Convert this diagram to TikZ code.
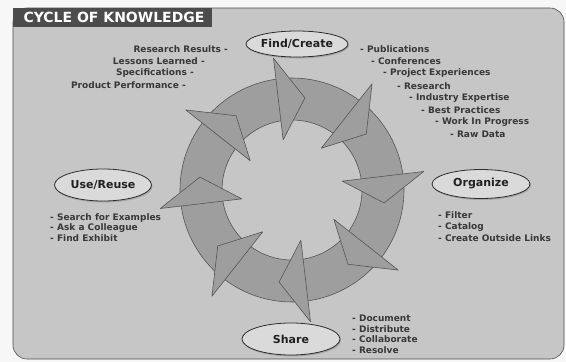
\documentclass[tikz,border=0pt]{standalone}
\usepackage{fontspec}
\setmainfont{DejaVu Sans}
\usetikzlibrary{shapes.geometric,shadows}

\definecolor{panelgray}{HTML}{C6C6C6}
\definecolor{titlegray}{HTML}{4C4C4C}
\definecolor{ringgray}{HTML}{9E9E9E}
\definecolor{ringedge}{HTML}{555555}
\definecolor{pillgray}{HTML}{DADADA}
\definecolor{inkgray}{HTML}{383838}

\begin{document}
\begin{tikzpicture}[
  x=1pt,
  y=-1pt,
  line join=round,
  panel/.style={fill=panelgray,draw=gray!60!black,line width=0.6pt,rounded corners=14pt},
  titlebar/.style={fill=titlegray},
  stagepill/.style={ellipse,fill=pillgray,draw=gray!35!black,line width=0.8pt,inner sep=0pt,
    font=\bfseries\fontsize{11}{13}\selectfont,text=gray!25!black,
    drop shadow={shadow xshift=1pt,shadow yshift=-1.5pt,opacity=0.45}},
  listitem/.style={font=\bfseries\fontsize{9}{11.5}\selectfont,text=inkgray,inner sep=0pt},
  ringpart/.style={fill=ringgray},
  ringline/.style={draw=ringedge,line width=0.6pt}
]
  % Fix the frame of the page.
  \useasboundingbox (0,0) rectangle (566,362);
  \fill[gray!6] (0,0) rectangle (566,362);

  % Panel and title bar.
  \draw[panel] (13,8) rectangle (564,359);
  \fill[titlebar] (13,8) rectangle (212,27);
  \node[text=white,font=\bfseries\fontsize{14}{16}\selectfont,anchor=west] (title)
    at (20,17.5) {CYCLE OF KNOWLEDGE};

  % Centre of the ring of arrows.
  \coordinate (hub) at (292,190);

  % Ring of eight curved arrows, tips running clockwise.
  \begin{scope}[shift={(hub)},yscale=-1]
    \foreach \t in {85,40,...,-230} {
      \pgfmathsetmacro{\tail}{\t+53}
      \pgfmathsetmacro{\neck}{\t+10}
      \filldraw[ringpart,ringline] (\tail:112) arc[start angle=\tail,end angle=\neck,radius=112]
        -- (\neck:70) arc[start angle=\neck,end angle=\tail,radius=70]
        -- ({\t+46}:92) -- cycle;
    }
    % Wide flat heads go on top and hide the tails they point into.
    \foreach \t in {85,40,...,-230} {
      \filldraw[ringpart,ringline] ({\t+13}:133) -- ({\t-3}:93) -- ({\t+15}:51) -- cycle;
    }
  \end{scope}

  % The four stages.
  \node[stagepill,minimum width=90pt,minimum height=26pt] (find) at (297,44) {Find/Create};
  \node[stagepill,minimum width=98pt,minimum height=29pt] (organize) at (481,184) {Organize};
  \node[stagepill,minimum width=98pt,minimum height=32pt] (share) at (291,339) {Share};
  \node[stagepill,minimum width=97pt,minimum height=32pt] (reuse) at (103,185) {Use/Reuse};

  % What gets found or created: results on the left, sources stepping down on the right.
  \node[listitem,anchor=east] (results) at (228,49) {Research Results -};
  \node[listitem,anchor=east] (lessons) at (205,61) {Lessons Learned -};
  \node[listitem,anchor=east] (specs) at (194,73) {Specifications -};
  \node[listitem,anchor=east] (perf) at (186,85) {Product Performance -};

  \node[listitem,anchor=west] (pubs) at (360,49) {- Publications};
  \node[listitem,anchor=west] (conf) at (371,61) {- Conferences};
  \node[listitem,anchor=west] (projexp) at (383,73) {- Project Experiences};
  \node[listitem,anchor=west] (research) at (397,86) {- Research};
  \node[listitem,anchor=west] (industry) at (409,98) {- Industry Expertise};
  \node[listitem,anchor=west] (practices) at (421,110) {- Best Practices};
  \node[listitem,anchor=west] (wip) at (435,122) {- Work In Progress};
  \node[listitem,anchor=west] (rawdata) at (450,134) {- Raw Data};

  % Lists under the other stages.
  \node[listitem,anchor=north west,align=left] (orglist) at (438,211)
    {- Filter\\- Catalog\\- Create Outside Links};
  \node[listitem,anchor=north west,align=left,font=\bfseries\fontsize{9}{10.5}\selectfont] (reuselist) at (50,213)
    {- Search for Examples\\- Ask a Colleague\\- Find Exhibit};
  \node[listitem,anchor=north west,align=left,font=\bfseries\fontsize{9}{10.5}\selectfont] (sharelist) at (352,315)
    {- Document\\- Distribute\\- Collaborate\\- Resolve};
\end{tikzpicture}
\end{document}
